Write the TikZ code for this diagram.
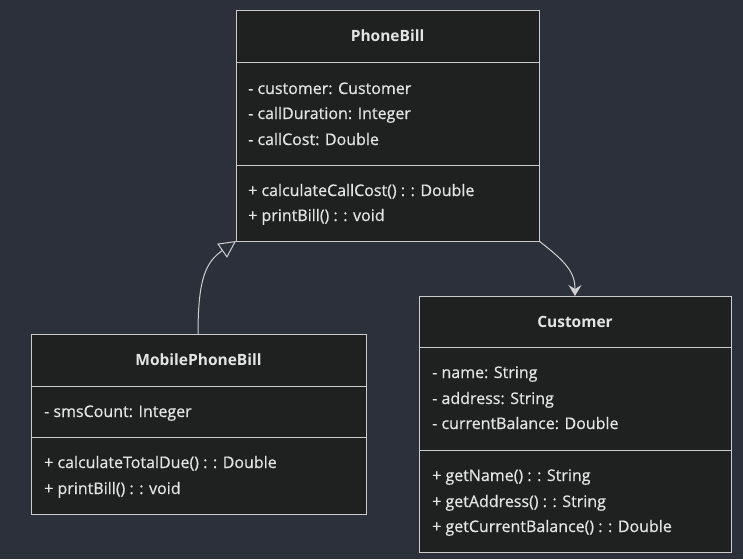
\documentclass[tikz,border=0pt]{standalone}
\usepackage{fontspec}
\setmainfont{Open Sans}
\newfontfamily\memberfont{Open Sans}[FakeBold=0.6]
\usetikzlibrary{arrows.meta}
\definecolor{bg}{HTML}{2B303B}
\definecolor{boxfill}{HTML}{1F2020}
\definecolor{boxline}{HTML}{CCCCCC}
\definecolor{txt}{HTML}{E4E4E4}
\definecolor{conn}{HTML}{CFCFCF}
\tikzset{
  classbox/.style={draw=boxline, fill=boxfill, line width=1pt, inner sep=0pt, outer sep=0pt, rectangle},
  divider/.style={draw=boxline, line width=1pt},
  title/.style={text=txt, font=\fontsize{15.5}{18}\selectfont\bfseries, inner sep=0pt, text height=13pt, text depth=3pt},
  member/.style={text=txt, font=\memberfont\fontsize{16}{18}\selectfont, anchor=west, inner sep=0pt, text height=13pt, text depth=3pt},
  connector/.style={draw=conn, line width=1pt},
}
\begin{document}
\begin{tikzpicture}[x=1pt,y=-1pt]
\fill[bg] (0,0) rectangle (743,559);
\useasboundingbox (0,0) rectangle (743,559);

% PhoneBill
\node[classbox, minimum width=303pt, minimum height=230pt] (pb) at (387.5,126) {};
\node[title] (pbt) at (387.5,37) {PhoneBill};
\draw[divider] (236,63) -- (539,63);
\node[member] (pba1) at (248,89) {- customer: Customer};
\node[member] (pba2) at (248,114) {- callDuration: Integer};
\node[member] (pba3) at (248,140) {- callCost: Double};
\draw[divider] (236,165) -- (539,165);
\node[member] (pbm1) at (248,191) {+ calculateCallCost() : : Double};
\node[member] (pbm2) at (248,216) {+ printBill() : : void};

% MobilePhoneBill
\node[classbox, minimum width=335pt, minimum height=180pt] (mpb) at (198.5,424) {};
\node[title] (mpbt) at (198.5,360) {MobilePhoneBill};
\draw[divider] (31,386) -- (366,386);
\node[member] (mpba1) at (44,412) {- smsCount: Integer};
\draw[divider] (31,437) -- (366,437);
\node[member] (mpbm1) at (44,463) {+ calculateTotalDue() : : Double};
\node[member] (mpbm2) at (44,489) {+ printBill() : : void};

% Customer
\node[classbox, minimum width=312pt, minimum height=256pt] (cu) at (575,424) {};
\node[title] (cut) at (575,322) {Customer};
\draw[divider] (419,347) -- (731,347);
\node[member] (cua1) at (432,373) {- name: String};
\node[member] (cua2) at (432,399) {- address: String};
\node[member] (cua3) at (432,424) {- currentBalance: Double};
\draw[divider] (419,450) -- (731,450);
\node[member] (cum1) at (432,476) {+ getName() : : String};
\node[member] (cum2) at (432,502) {+ getAddress() : : String};
\node[member] (cum3) at (432,527) {+ getCurrentBalance() : : Double};

% Inheritance
\draw[connector, -{Triangle[open, length=17pt, width=17pt, line width=1pt]}]
  ([xshift=-0.5pt]mpb.north) .. controls (198,278) and (206,262) .. (pb.south west);
% Association
\draw[connector, -{Stealth[length=11pt, width=13pt, inset=4pt]}]
  (pb.south east) .. controls (566,262) and (575,272) .. (cu.north);
\end{tikzpicture}
\end{document}
